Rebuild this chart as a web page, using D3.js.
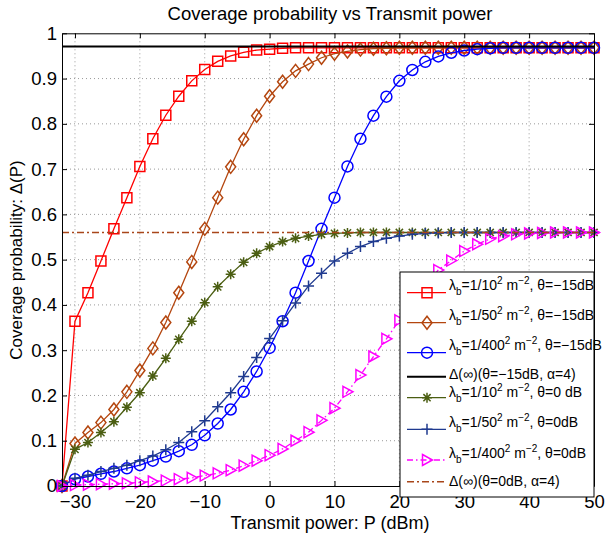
<!DOCTYPE html>
<html>
<head>
<meta charset="utf-8">
<script src="https://cdn.jsdelivr.net/npm/d3@7"></script>
<style>
  body { margin: 0; background: #fff; }
  text { font-family: "Liberation Sans", Arial, Helvetica, sans-serif; }
</style>
</head>
<body>
<div id="container"></div>
<script>
// transmit power (dBm)
let powerDbm = [-32, -30, -28, -26, -24, -22, -20, -18, -16, -14, -12, -10, -8, -6, -4, -2,
  0, 2, 4, 6, 8, 10, 12, 14, 16, 18, 20, 22, 24, 26, 28, 30, 32, 34, 36, 38, 40, 42, 44, 46, 48, 50];

// theta = -15 dB
let lam10Th15 = [0, 0.364, 0.427, 0.497, 0.568, 0.637, 0.706, 0.767, 0.819, 0.861, 0.895, 0.920, 0.938, 0.950, 0.958, 0.963,
  0.965, 0.967, 0.968, 0.968, 0.968, 0.968, 0.968, 0.968, 0.968, 0.968, 0.968, 0.968, 0.968, 0.968, 0.968, 0.968, 0.968, 0.968, 0.968, 0.968, 0.968, 0.968, 0.968, 0.968, 0.968, 0.968];
let lam50Th15 = [0, 0.094, 0.118, 0.140, 0.169, 0.208, 0.255, 0.304, 0.361, 0.427, 0.495, 0.568, 0.637, 0.705, 0.766, 0.818,
  0.861, 0.893, 0.917, 0.932, 0.946, 0.955, 0.960, 0.964, 0.966, 0.967, 0.968, 0.968, 0.968, 0.968, 0.968, 0.968, 0.968, 0.968, 0.968, 0.968, 0.968, 0.968, 0.968, 0.968, 0.968, 0.968];
let lam400Th15 = [0, 0.015, 0.021, 0.027, 0.032, 0.039, 0.046, 0.056, 0.065, 0.077, 0.091, 0.112, 0.138, 0.169, 0.208, 0.253,
  0.305, 0.364, 0.427, 0.497, 0.568, 0.637, 0.706, 0.767, 0.818, 0.860, 0.895, 0.919, 0.937, 0.949, 0.957, 0.962, 0.965, 0.967, 0.968, 0.968, 0.968, 0.968, 0.968, 0.968, 0.968, 0.968];
let limitTh15 = 0.971;

// theta = 0 dB
let lam10Th0 = [0, 0.081, 0.096, 0.118, 0.142, 0.174, 0.206, 0.243, 0.282, 0.324, 0.364, 0.405, 0.440, 0.468, 0.494, 0.514,
  0.529, 0.540, 0.547, 0.552, 0.556, 0.558, 0.559, 0.56, 0.56, 0.56, 0.56, 0.56, 0.56, 0.56, 0.56, 0.56, 0.56, 0.56, 0.56, 0.56, 0.56, 0.56, 0.56, 0.56, 0.56, 0.56];
let lam50Th0 = [0, 0.017, 0.024, 0.032, 0.039, 0.046, 0.056, 0.066, 0.080, 0.096, 0.120, 0.144, 0.175, 0.206, 0.242, 0.284,
  0.326, 0.365, 0.404, 0.442, 0.470, 0.497, 0.514, 0.529, 0.540, 0.547, 0.552, 0.556, 0.558, 0.559, 0.56, 0.56, 0.56, 0.56, 0.56, 0.56, 0.56, 0.56, 0.56, 0.56, 0.56, 0.56];
let lam400Th0 = [0, 0.002, 0.003, 0.004, 0.005, 0.006, 0.008, 0.010, 0.012, 0.015, 0.018, 0.023, 0.028, 0.035, 0.045, 0.056,
  0.068, 0.082, 0.100, 0.119, 0.145, 0.172, 0.208, 0.245, 0.286, 0.325, 0.366, 0.405, 0.443, 0.477, 0.498, 0.519, 0.534, 0.546, 0.552, 0.556, 0.558, 0.559, 0.56, 0.56, 0.56, 0.56];
let limitTh0 = 0.56;

let xTicks = [-30, -20, -10, 0, 10, 20, 30, 40, 50];
let yTicks = [0, 0.1, 0.2, 0.3, 0.4, 0.5, 0.6, 0.7, 0.8, 0.9, 1];

let w = 608;
let h = 533;
let pLeft = 62, pRight = 594, pTop = 33.3, pBottom = 486;

let viz = d3.select("#container")
  .append("svg")
    .attr("width", w)
    .attr("height", h)
;

let xScale = d3.scaleLinear().domain([-32, 50]).range([pLeft, pRight]);
let yScale = d3.scaleLinear().domain([0, 1]).range([pBottom, pTop]);

// grid
let grid = viz.append("g").attr("class", "grid")
  .attr("stroke", "#999").attr("stroke-width", 1).attr("stroke-dasharray", "1,3");
grid.selectAll(".vg").data(xTicks.filter(d => d > -32 && d < 50)).enter().append("line")
  .attr("x1", d => xScale(d)).attr("x2", d => xScale(d))
  .attr("y1", pTop).attr("y2", pBottom);
grid.selectAll(".hg").data(yTicks.filter(d => d > 0 && d < 1)).enter().append("line")
  .attr("x1", pLeft).attr("x2", pRight)
  .attr("y1", d => yScale(d)).attr("y2", d => yScale(d));

// series
function markerPath(type){
  if(type == "square") return "M-5,-5H5V5H-5Z";
  if(type == "diamond") return "M0,-6.5L5,0L0,6.5L-5,0Z";
  if(type == "circle") return "M5.5,0A5.5,5.5 0 1,1 -5.5,0A5.5,5.5 0 1,1 5.5,0Z";
  if(type == "star") return "M-5,0H5M0,-5V5M-3.6,-3.6L3.6,3.6M-3.6,3.6L3.6,-3.6";
  if(type == "plus") return "M-5.5,0H5.5M0,-5.5V5.5";
  if(type == "triangle") return "M-4.5,-5.5L5.5,0L-4.5,5.5Z";
  return "";
}

let series = [
  {values: lam10Th15, color: "#ff0000", marker: "square", dash: null},
  {values: lam50Th15, color: "#b4460f", marker: "diamond", dash: null},
  {values: lam400Th15, color: "#0000ff", marker: "circle", dash: null},
  {limit: limitTh15, color: "#000000", width: 2, dash: null},
  {values: lam10Th0, color: "#4b5e12", marker: "star", dash: null},
  {values: lam50Th0, color: "#1f3a8f", marker: "plus", dash: null},
  {values: lam400Th0, color: "#ff00ff", marker: "triangle", dash: "6,3,1.5,3"},
  {limit: limitTh0, color: "#a8461a", width: 1.6, dash: "7,3,2,3"}
];

let line = d3.line()
  .x(function(d){ return xScale(d.x); })
  .y(function(d){ return yScale(d.y); });

let plot = viz.append("g").attr("class", "plot");
series.forEach(function(s){
  let pts;
  if(s.limit !== undefined){
    pts = [{x: -32, y: s.limit}, {x: 50, y: s.limit}];
  } else {
    pts = powerDbm.map(function(p, i){ return {x: p, y: s.values[i]}; });
  }
  plot.append("path")
    .attr("d", line(pts))
    .attr("fill", "none")
    .attr("stroke", s.color)
    .attr("stroke-width", s.width || 1.3)
    .attr("stroke-dasharray", s.dash);
  if(s.marker){
    plot.selectAll(null).data(pts).enter().append("path")
      .attr("transform", d => "translate(" + xScale(d.x) + "," + yScale(d.y) + ")")
      .attr("d", markerPath(s.marker))
      .attr("fill", "none")
      .attr("stroke", s.color)
      .attr("stroke-width", 1.5);
  }
});

// axes
let fmtY = d => (+d.toFixed(1)).toString();
let xAxisGroup = viz.append("g").attr("class", "xaxis")
  .attr("transform", "translate(0," + pBottom + ")")
  .call(d3.axisBottom(xScale).tickValues(xTicks).tickSizeInner(-5).tickSizeOuter(0).tickPadding(9));
let yAxisGroup = viz.append("g").attr("class", "yaxis")
  .attr("transform", "translate(" + pLeft + ",0)")
  .call(d3.axisLeft(yScale).tickValues(yTicks).tickFormat(fmtY).tickSizeInner(-5).tickSizeOuter(0).tickPadding(5));
viz.append("g").attr("transform", "translate(0," + pTop + ")")
  .call(d3.axisTop(xScale).tickValues(xTicks).tickSizeInner(-5).tickSizeOuter(0).tickFormat(""));
viz.append("g").attr("transform", "translate(" + pRight + ",0)")
  .call(d3.axisRight(yScale).tickValues(yTicks).tickSizeInner(-5).tickSizeOuter(0).tickFormat(""));
viz.selectAll(".tick text").attr("font-size", 18.5).attr("fill", "#000")
  .attr("font-family", "'Liberation Sans', Arial, sans-serif");
viz.selectAll(".domain").attr("stroke", "#000");
viz.selectAll(".tick line").attr("stroke", "#000");

// labels
viz.append("text").attr("x", 330).attr("y", 19.5).attr("text-anchor", "middle")
  .attr("font-size", 18.5).text("Coverage probability vs Transmit power");
viz.append("text").attr("x", 330).attr("y", 529).attr("text-anchor", "middle")
  .attr("font-size", 18).text("Transmit power: P (dBm)");
viz.append("text").attr("transform", "translate(22,260) rotate(-90)").attr("text-anchor", "middle")
  .attr("font-size", 17).text("Coverage probability: \u0394(P)");

// legend
let legendRows = [292.7, 322.7, 352.7, 376.7, 397.7, 429.3, 460, 481.7];
let legendLabels = [
  ["λ", ["b", "sub"], "=1/10", ["2", "sup"], " m", ["−2", "sup"], ", θ=−15dB"],
  ["λ", ["b", "sub"], "=1/50", ["2", "sup"], " m", ["−2", "sup"], ", θ=−15dB"],
  ["λ", ["b", "sub"], "=1/400", ["2", "sup"], " m", ["−2", "sup"], ", θ=−15dB"],
  ["Δ(∞)(θ=−15dB, α=4)"],
  ["λ", ["b", "sub"], "=1/10", ["2", "sup"], " m", ["−2", "sup"], ", θ=0 dB"],
  ["λ", ["b", "sub"], "=1/50", ["2", "sup"], " m", ["−2", "sup"], ", θ=0dB"],
  ["λ", ["b", "sub"], "=1/400", ["2", "sup"], " m", ["−2", "sup"], ", θ=0dB"],
  ["Δ(∞)(θ=0dB, α=4)"]
];

let legend = viz.append("g").attr("class", "legend");
legend.append("rect").attr("x", 400).attr("y", 272).attr("width", 194).attr("height", 225)
  .attr("fill", "#fff").attr("stroke", "#000").attr("stroke-width", 1);

series.forEach(function(s, i){
  let ry = legendRows[i];
  let g = legend.append("g");
  g.append("line").attr("x1", 407).attr("x2", 446).attr("y1", ry).attr("y2", ry)
    .attr("stroke", s.color).attr("stroke-width", s.width || 1.3).attr("stroke-dasharray", s.dash);
  if(s.marker){
    g.append("path").attr("transform", "translate(427," + ry + ")")
      .attr("d", markerPath(s.marker)).attr("fill", "none")
      .attr("stroke", s.color).attr("stroke-width", 1.5);
  }
  let parts = legendLabels[i];
  let hasSub = parts.length > 1;
  let ty = hasSub ? ry - 2.3 : ry + 4;
  if(i == 3) ty -= 1.5;
  if(i == 4) ty += 1.5;
  let t = g.append("text").attr("x", 449).attr("y", ty)
    .attr("font-size", 14).attr("fill", "#000");
  let shift = 0;
  parts.forEach(function(p){
    let txt = typeof p == "string" ? p : p[0];
    let kind = typeof p == "string" ? "" : p[1];
    let target = kind == "sub" ? 5 : (kind == "sup" ? -6 : 0);
    t.append("tspan").attr("dy", target - shift).attr("font-size", kind ? 10 : 14).text(txt);
    shift = target;
  });
});
</script>
</body>
</html>
